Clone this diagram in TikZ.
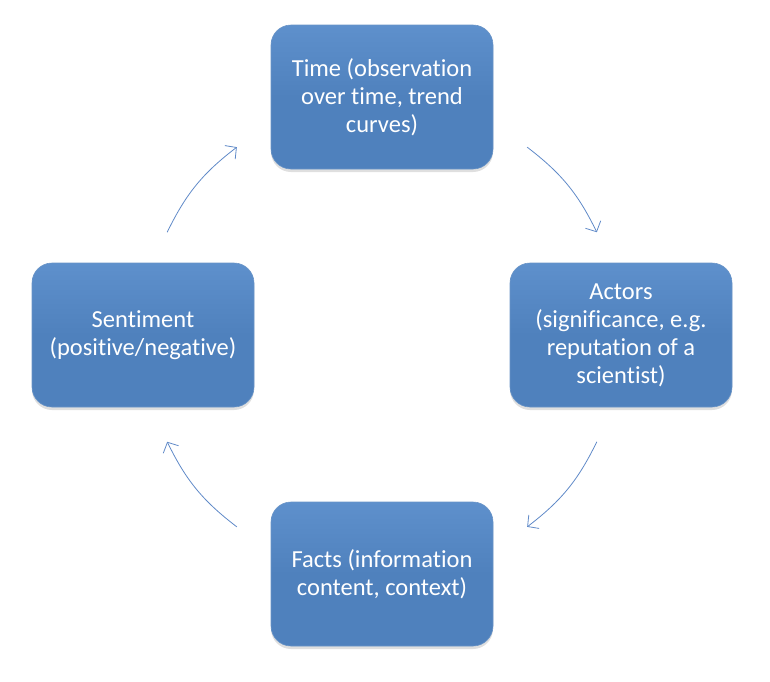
\documentclass[tikz,border=0pt]{standalone}
\usepackage{fontspec}
\setmainfont[Ligatures=NoCommon]{Carlito}
\usetikzlibrary{calc,positioning,arrows.meta,shadows}

\definecolor{boxblue}{RGB}{79,129,189}
\definecolor{boxtop}{RGB}{94,144,204}
\definecolor{arrowblue}{RGB}{96,138,200}

\begin{document}
\begin{tikzpicture}[x=1pt,y=1pt,
topic/.style={rectangle, rounded corners=20pt, draw=boxblue!85!white, line width=0.6pt,
  top color=boxtop, bottom color=boxblue, middle color=boxblue,
  minimum width=222pt, minimum height=144pt, align=center, text=white,
  font=\fontsize{24.5}{28}\selectfont,
  drop shadow={opacity=0.25, shadow xshift=0pt, shadow yshift=-3pt}},
flow/.style={draw=arrowblue, line width=0.8pt, -{Straight Barb[length=8pt,width=17pt]}},
info/.style={draw=none,fill=none,inner sep=0pt}]

%% local variables
\def \cx {382}
\def \cy {-337}
\def \rad {239}

\useasboundingbox (0,0) rectangle (770,-681);

%% place the four boxes
\node[topic] (time) at (382,-97) {Time (observation\\over time, trend\\curves)};
\node[topic] (actors) at (621,-335) {Actors\\(significance, e.g.\\reputation of a\\scientist)};
\node[topic] (facts) at (382,-574) {Facts (information\\content, context)};
\node[topic] (sentiment) at (143,-335) {Sentiment\\(positive/negative)};

%% arrow ends on a circle round the middle
\coordinate (TA-s) at ($(\cx,\cy)+(52.6:\rad)$);
\coordinate (TA-e) at ($(\cx,\cy)+(26:\rad)$);
\coordinate (AF-s) at ($(\cx,\cy)+(-26:\rad)$);
\coordinate (AF-e) at ($(\cx,\cy)+(-52.6:\rad)$);
\coordinate (FS-s) at ($(\cx,\cy)+(-127.4:\rad)$);
\coordinate (FS-e) at ($(\cx,\cy)+(-154:\rad)$);
\coordinate (ST-s) at ($(\cx,\cy)+(154:\rad)$);
\coordinate (ST-e) at ($(\cx,\cy)+(127.4:\rad)$);

%% place all arrows
\foreach \a in {TA, AF, FS, ST}
      \draw[flow] (\a-s) to[bend left=13.3] (\a-e);

\end{tikzpicture}
\end{document}
